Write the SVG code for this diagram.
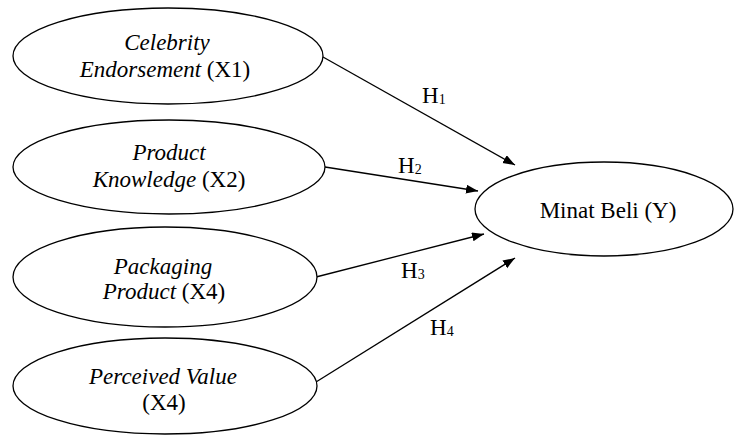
<svg xmlns="http://www.w3.org/2000/svg" width="734" height="435" viewBox="0 0 734 435">
<style>
.node ellipse{fill:#fff;stroke:#000;stroke-width:1.3}
text{font-size:23px;fill:#000;text-anchor:middle}
.it{font-style:italic}
.conn line{stroke:#000;stroke-width:1.3;marker-end:url(#ah)}
.lbl{text-anchor:start}
.sub{font-size:14px}
</style>
<defs>
<marker id="ah" markerUnits="userSpaceOnUse" markerWidth="13" markerHeight="10" refX="12" refY="4.5" orient="auto">
<path d="M0,0 L12,4.5 L0,9 z" fill="#000"/>
</marker>
</defs>
<rect width="734" height="435" fill="#fff"/>
<g font-family="'Liberation Serif', 'Times New Roman', 'DejaVu Serif', serif">
<g id="conns" class="conn">
<line x1="323" y1="57" x2="515" y2="165"/>
<line x1="325" y1="167" x2="478" y2="191"/>
<line x1="316" y1="277" x2="484" y2="234"/>
<line x1="316" y1="382" x2="515" y2="258"/>
</g>
<g id="labels">
<text class="lbl" x="422" y="103">H<tspan class="sub" dy="1">1</tspan></text>
<text class="lbl" x="398" y="173" font-size="20">H<tspan class="sub" font-size="13" dy="1">2</tspan></text>
<text class="lbl" x="401" y="278">H<tspan class="sub" dy="1">3</tspan></text>
<text class="lbl" x="430" y="335">H<tspan class="sub" dy="1">4</tspan></text>
</g>
<g id="x1" class="node">
<ellipse cx="168" cy="56" rx="155" ry="48"/>
<text x="167" y="50" class="it">Celebrity</text>
<text x="165" y="77"><tspan class="it">Endorsement</tspan> (X1)</text>
</g>
<g id="x2" class="node">
<ellipse cx="169" cy="167" rx="156" ry="47"/>
<text x="169" y="160" class="it">Product</text>
<text x="169" y="187"><tspan class="it">Knowledge</tspan> (X2)</text>
</g>
<g id="x3" class="node">
<ellipse cx="165" cy="277" rx="152" ry="50"/>
<text x="163" y="274" class="it">Packaging</text>
<text x="164" y="299"><tspan class="it">Product</tspan> (X4)</text>
</g>
<g id="x4" class="node">
<ellipse cx="165" cy="386" rx="152" ry="48"/>
<text x="163" y="384" class="it">Perceived Value</text>
<text x="164" y="410">(X4)</text>
</g>
<g id="y" class="node">
<ellipse cx="604" cy="209" rx="129" ry="47"/>
<text x="608" y="218">Minat Beli (Y)</text>
</g>
</g>
</svg>
